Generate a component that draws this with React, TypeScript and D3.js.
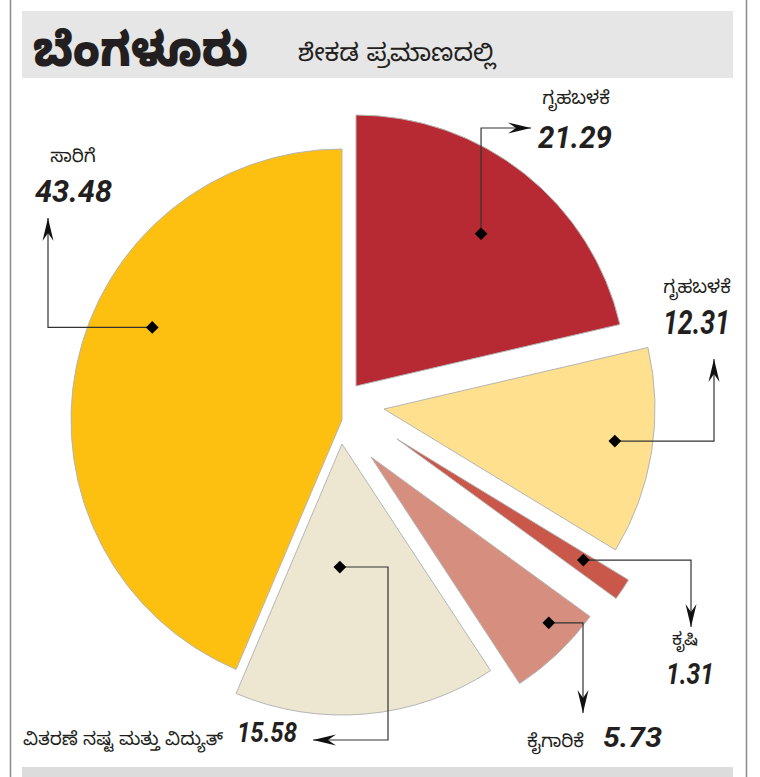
import React from "react";
import * as d3 from "d3";

// ---------- data ----------
const categories = [
  "ಗೃಹಬಳಕೆ",
  "ಗೃಹಬಳಕೆ",
  "ಕೃಷಿ",
  "ಕೈಗಾರಿಕೆ",
  "ವಿತರಣೆ ನಷ್ಟ ಮತ್ತು ವಿದ್ಯುತ್",
  "ಸಾರಿಗೆ",
];
const values = [21.29, 12.31, 1.31, 5.73, 15.58, 43.48];
const valueLabels = ["21.29", "12.31", "1.31", "5.73", "15.58", "43.48"];
const sliceColors = ["#B72A33", "#FEE08F", "#C9584A", "#D68F7F", "#EDE7D1", "#FDC010"];
const title = "ಬೆಂಗಳೂರು";
const subtitle = "ಶೇಕಡ ಪ್ರಮಾಣದಲ್ಲಿ";

// ---------- layout ----------
const W = 760;
const H = 777;
const R = 271;
const CENTER: [number, number] = [350, 415];
// explode offsets of each slice's apex from the centre
const explode: [number, number][] = [
  [6, -29],
  [34, -6],
  [47, 24],
  [21, 42],
  [-8, 29],
  [-8, 5],
];
// marker anchor (angle in degrees, fraction of radius) inside each slice
const anchor: [number, number][] = [
  [39.4, 0.727],
  [97.9, 0.86],
  [123, 0.82],
  [133, 0.897],
  [181, 0.454],
  [296, 0.779],
];
type Leg = ["h" | "v", number];
const legs: Leg[][] = [
  [["v", 128], ["h", 531]],
  [["h", 714], ["v", 359]],
  [["h", 691], ["v", 627]],
  [["h", 583], ["v", 713]],
  [["h", 388], ["v", 740], ["h", 313]],
  [["h", 48], ["v", 218]],
];
// label placement: [catX, catY, catAnchor, valX, valY, valAnchor, valWidth, valSize]
const labelPos: [number, number, string, number, number, string, number, number][] = [
  [576, 104, "middle", 538, 148, "start", 74, 32],
  [697, 293, "middle", 730, 334, "end", 67, 33],
  [685, 645, "middle", 714, 684, "end", 48, 30],
  [527, 747, "start", 603, 747, "start", 59, 28],
  [23, 745, "start", 237, 742, "start", 60, 28],
  [73, 162, "middle", 35, 202, "start", 77, 32],
];

const kn = "'Noto Sans Kannada', 'Noto Sans', 'DejaVu Sans', sans-serif";
const numFont = "Roboto, 'Liberation Sans', sans-serif";

export default function App() {
  const total = d3.sum(values);
  const pie = d3
    .pie<number>()
    .sort(null)
    .value((d) => d / total)
    .startAngle(0)
    .endAngle(2 * Math.PI);
  const arcs = pie(values);
  const arcGen = d3.arc<d3.PieArcDatum<number>>().innerRadius(0).outerRadius(R);

  const apex = (i: number): [number, number] => [
    CENTER[0] + explode[i][0],
    CENTER[1] + explode[i][1],
  ];
  const polar = (c: [number, number], deg: number, r: number): [number, number] => {
    const a = (deg * Math.PI) / 180;
    return [c[0] + r * Math.sin(a), c[1] - r * Math.cos(a)];
  };

  return (
    <div style={{ position: "absolute", left: 0, top: 0 }}>
      <svg width={W} height={H} style={{ display: "block", background: "#fff" }}>
        <defs>
          <marker
            id="arr"
            markerUnits="userSpaceOnUse"
            markerWidth={30}
            markerHeight={16}
            viewBox="-24 -8 26 16"
            refX={0}
            refY={0}
            orient="auto"
          >
            <path d="M0,0 L-23,-5.5 L-15,0 L-23,5.5 Z" fill="#111" />
          </marker>
        </defs>
        {/* frame */}
        <line x1={10.5} y1={0} x2={10.5} y2={H} stroke="#8a8a8a" strokeWidth={1.5} />
        <line x1={746.5} y1={0} x2={746.5} y2={H} stroke="#8a8a8a" strokeWidth={1.5} />
        <rect x={22} y={11} width={711} height={67} fill="#e6e6e6" />
        <rect x={22} y={767} width={711} height={10} fill="#dcdcdc" />
        <text
          x={33}
          y={66}
          fontFamily={kn}
          fontWeight={900}
          fontSize={47}
          fill="#231f20"
          textLength={215}
          lengthAdjust="spacingAndGlyphs"
        >
          {title}
        </text>
        <text
          x={298}
          y={61}
          fontFamily={kn}
          fontSize={24}
          fill="#231f20"
          textLength={197}
          lengthAdjust="spacingAndGlyphs"
        >
          {subtitle}
        </text>

        {/* slices */}
        {arcs.map((a, i) => {
          const [x, y] = apex(i);
          return (
            <path
              key={"s" + i}
              d={arcGen(a) || ""}
              transform={`translate(${x},${y})`}
              fill={sliceColors[i]}
              stroke="#b5b5b5"
              strokeWidth={1}
            />
          );
        })}

        {/* leaders */}
        {arcs.map((a, i) => {
          const p0 = polar(apex(i), anchor[i][0], anchor[i][1] * R);
          const pts: [number, number][] = [p0];
          let cur: [number, number] = [p0[0], p0[1]];
          legs[i].forEach(([dir, v]) => {
            cur = dir === "h" ? [v, cur[1]] : [cur[0], v];
            pts.push(cur);
          });
          const line = d3.line()(pts) || "";
          return (
            <g key={"l" + i}>
              <path d={line} fill="none" stroke="#333" strokeWidth={1.2} markerEnd="url(#arr)" />
              <rect
                x={p0[0] - 4.5}
                y={p0[1] - 4.5}
                width={9}
                height={9}
                fill="#000"
                transform={`rotate(45 ${p0[0]} ${p0[1]})`}
              />
            </g>
          );
        })}

        {/* labels */}
        {categories.map((c, i) => {
          const [cx, cy, ca, vx, vy, va, vw, vs] = labelPos[i];
          return (
            <g key={"t" + i}>
              <text
                x={cx}
                y={cy}
                textAnchor={ca}
                fontFamily={kn}
                fontSize={i === 2 ? 17.5 : 18.5}
                fill="#231f20"
              >
                {c}
              </text>
              <text
                x={vx}
                y={vy}
                textAnchor={va}
                fontFamily={numFont}
                fontWeight={700}
                fontStyle="italic"
                fontSize={vs}
                fill="#231f20"
                textLength={vw}
                lengthAdjust="spacingAndGlyphs"
              >
                {valueLabels[i]}
              </text>
            </g>
          );
        })}
      </svg>
    </div>
  );
}
